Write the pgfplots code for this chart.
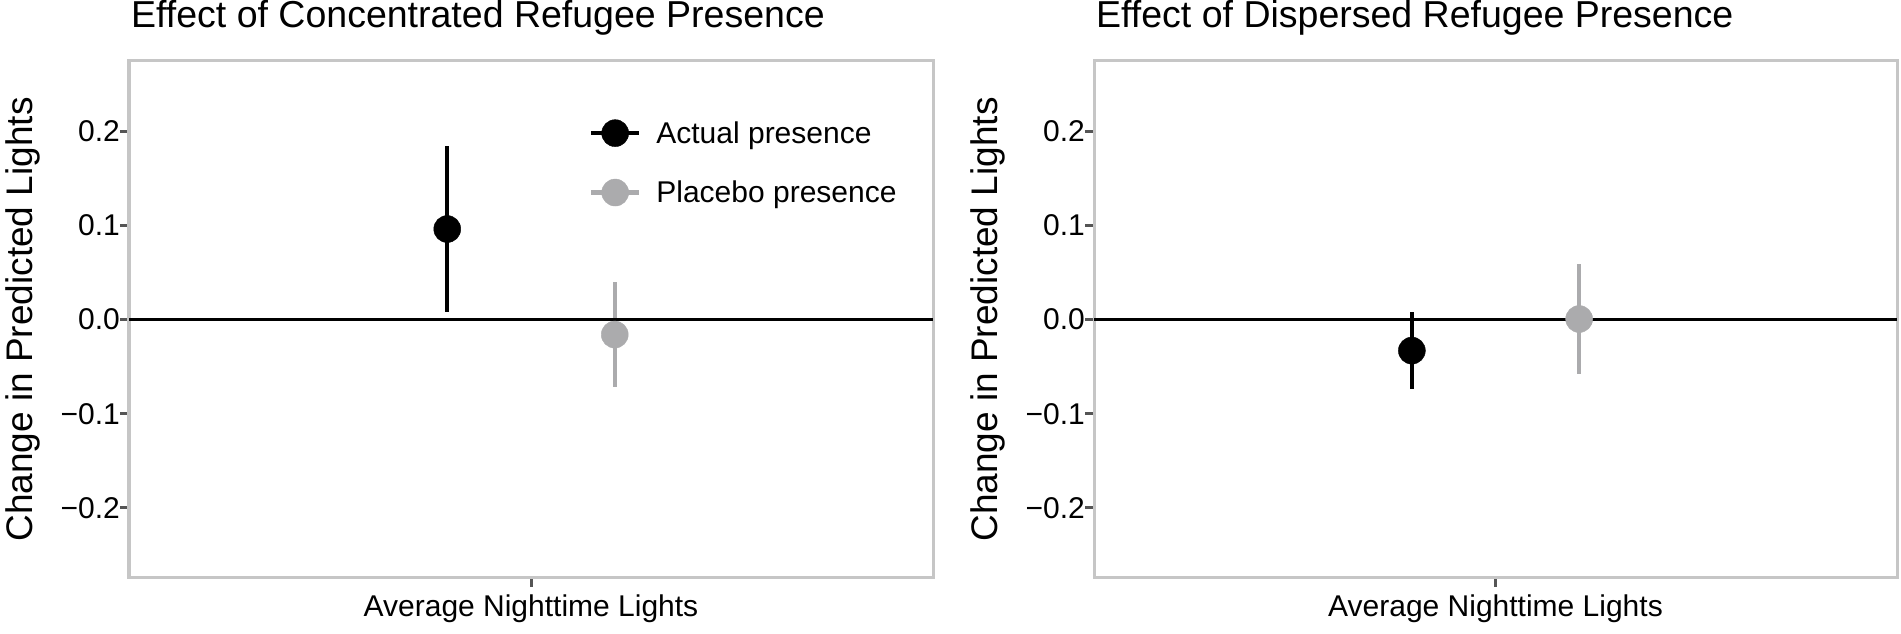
\documentclass[border=0pt]{standalone}
\usepackage{fontspec}
\setmainfont{Liberation Sans}
\usepackage{pgfplots}
\pgfplotsset{compat=1.18}

\definecolor{placebo}{RGB}{171,171,173}
\definecolor{framegrey}{RGB}{198,198,198}
\definecolor{tickgrey}{RGB}{85,85,85}

\pgfplotsset{
  panel/.style={
    scale only axis,
    width=804bp, height=517bp,
    xmin=0.4, xmax=1.6,
    ymin=-0.2743, ymax=0.2743,
    xtick={1}, xticklabels={},
    ytick={-0.2,-0.1,0,0.1,0.2},
    yticklabels={−0.2,−0.1,0.0,0.1,0.2},
    tick align=outside, xtick pos=bottom, ytick pos=left,
    major tick length=9bp,
    tick style={line width=3bp, color=tickgrey},
    axis line style={line width=3bp, color=framegrey},
    yticklabel style={font=\fontsize{30bp}{34bp}\selectfont, inner sep=0pt},
    xlabel={Average Nighttime Lights},
    xlabel style={font=\fontsize{30bp}{34bp}\selectfont, inner sep=0pt,
      at={(axis description cs:0.5,0)}, anchor=base, yshift=-39bp},
    ylabel={Change in Predicted Lights},
    ylabel style={font=\fontsize{37bp}{41bp}\selectfont, inner sep=0pt,
      at={(axis description cs:-0.1206,0.5)}, anchor=base},
    title style={font=\fontsize{37.5bp}{42bp}\selectfont, inner sep=0pt,
      at={(axis description cs:0,1)}, anchor=base west, xshift=2bp, yshift=28bp},
  },
  pr/.style={only marks, mark=*, mark size=13.5bp, color=#1,
    error bars/.cd, y dir=both, y explicit, error mark=none,
    error bar style={line width=4.2bp, color=#1}, /pgfplots/.cd},
}

\begin{document}
\begin{tikzpicture}
\path[use as bounding box] (0,0) rectangle (1901bp,634bp);

% concentrated
\begin{axis}[panel, at={(129bp,56bp)}, anchor=south west,
  title={Effect of Concentrated Refugee Presence},
  legend style={at={(axis description cs:0.572,0.803)}, anchor=west,
    draw=none, fill=none, inner sep=0pt, row sep=32bp,
    font=\fontsize{30bp}{34bp}\selectfont, nodes={inner sep=0pt}},
  legend cell align=left]
\addlegendimage{legend image code/.code={
  \draw[black, line width=4.2bp] (0bp,0bp) -- (48bp,0bp);
  \fill[black] (24bp,0bp) circle[radius=13.5bp];
  \path (65bp,0bp);}}
\addlegendentry{Actual presence}
\addlegendimage{legend image code/.code={
  \draw[placebo, line width=4.2bp] (0bp,0bp) -- (48bp,0bp);
  \fill[placebo] (24bp,0bp) circle[radius=13.5bp];
  \path (65bp,0bp);}}
\addlegendentry{Placebo presence}
\addplot[forget plot, pr=black] coordinates {(0.875,0.096) +- (0,0.0885)};
\addplot[forget plot, pr=placebo] coordinates {(1.125,-0.016) +- (0,0.056)};
\addplot[forget plot, black, line width=3.4bp] coordinates {(0.4,0) (1.6,0)};
\end{axis}

% dispersed
\begin{axis}[panel, width=803bp, at={(1094bp,56bp)}, anchor=south west,
  title={Effect of Dispersed Refugee Presence}]
\addplot[pr=black] coordinates {(0.875,-0.033) +- (0,0.0405)};
\addplot[pr=placebo] coordinates {(1.125,0.0005) +- (0,0.0585)};
\addplot[black, line width=3.4bp] coordinates {(0.4,0) (1.6,0)};
\end{axis}
\end{tikzpicture}
\end{document}
